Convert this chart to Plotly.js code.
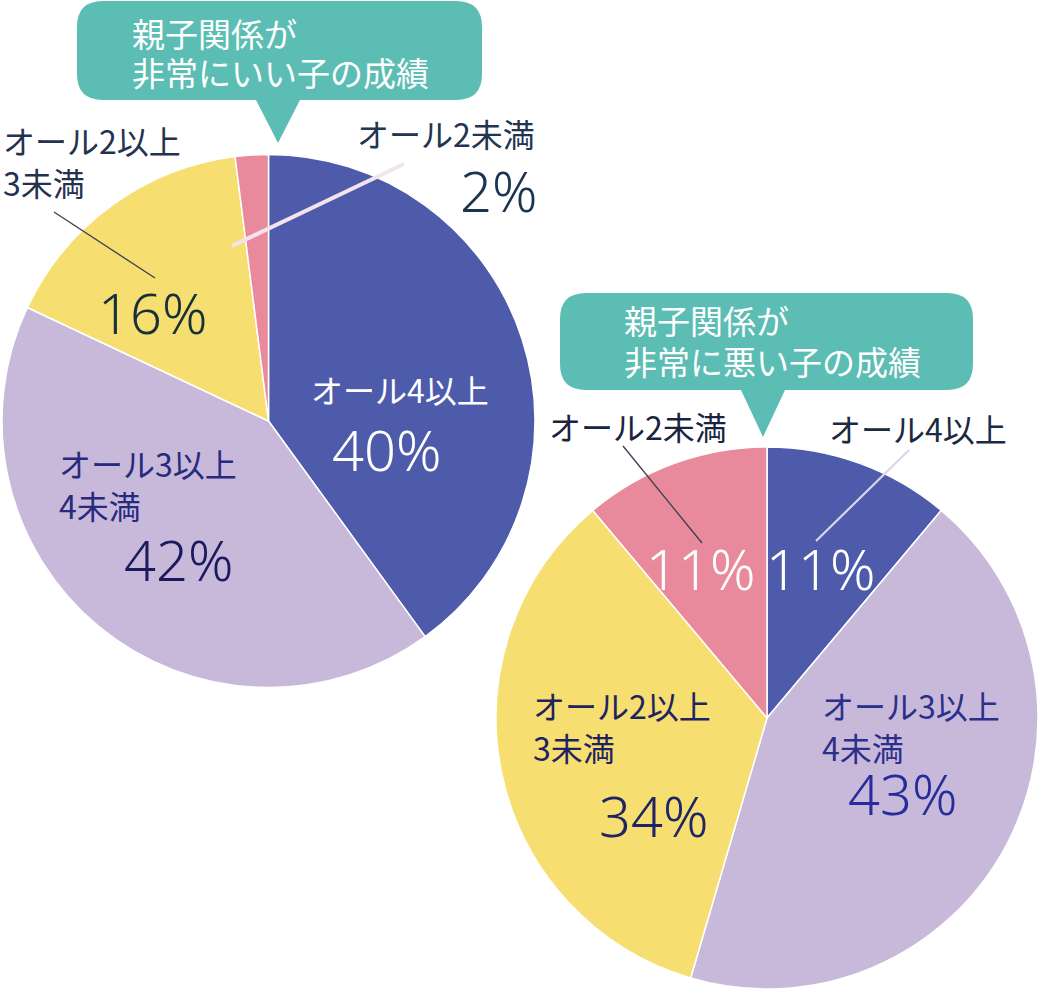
<!DOCTYPE html>
<html>
<head>
<meta charset="utf-8">
<script src="https://cdn.plot.ly/plotly-3.0.1.min.js"></script>
<style>
  html, body { margin: 0; padding: 0; background: #fff; }
  #chart { width: 1040px; height: 997px; }
</style>
</head>
<body>
<div id="chart"></div>
<script>
// 成績の区分（時計回り、12時から）
const grades = ['オール4以上', 'オール3以上<br>4未満', 'オール2以上<br>3未満', 'オール2未満'];
const good_values = [40, 42, 16, 2];
const bad_values = [11, 43, 34, 11];
const good_title = ['親子関係が', '非常にいい子の成績'];
const bad_title = ['親子関係が', '非常に悪い子の成績'];
const slice_colors = ['#4E5BAB', '#C8B9DB', '#F6DF70', '#E98A9C'];

const W = 1040, H = 997;
const JP = '"Noto Sans CJK JP", "Noto Sans", sans-serif';
const NUM = '"Noto Sans", "Noto Sans CJK JP", sans-serif';

function fx(px) { return px / W; }
function fy(py) { return 1 - py / H; }

function pie(values, cx, cy, r) {
  return {
    type: 'pie',
    labels: grades,
    values: values,
    sort: false,
    direction: 'clockwise',
    rotation: 0,
    textinfo: 'none',
    hoverinfo: 'none',
    showlegend: false,
    marker: { colors: slice_colors, line: { color: '#ffffff', width: 1.5 } },
    domain: { x: [fx(cx - r), fx(cx + r)], y: [fy(cy + r), fy(cy - r)] }
  };
}

function note(text, x, y, size, color, xanchor, family, weight) {
  return {
    text: text, xref: 'paper', yref: 'paper',
    x: fx(x), y: fy(y), xanchor: xanchor || 'center', yanchor: 'middle',
    align: xanchor === 'left' ? 'left' : 'center',
    showarrow: false,
    font: { family: family || JP, size: size, color: color, weight: weight || 400 }
  };
}

function big(v, x, y, color) {
  return note(v + '%', x, y, 56, color, 'center', NUM, 300);
}

// 吹き出し（角丸の四角と下向きの三角）
function bubble(x0, y0, x1, y1, tx, tipY) {
  let r = 26, b = 22;
  let p = 'M' + fx(x0 + r) + ',' + fy(y0) +
    ' L' + fx(x1 - r) + ',' + fy(y0) +
    ' Q' + fx(x1) + ',' + fy(y0) + ' ' + fx(x1) + ',' + fy(y0 + r) +
    ' L' + fx(x1) + ',' + fy(y1 - r) +
    ' Q' + fx(x1) + ',' + fy(y1) + ' ' + fx(x1 - r) + ',' + fy(y1) +
    ' L' + fx(tx + b) + ',' + fy(y1) +
    ' L' + fx(tx) + ',' + fy(tipY) +
    ' L' + fx(tx - b) + ',' + fy(y1) +
    ' L' + fx(x0 + r) + ',' + fy(y1) +
    ' Q' + fx(x0) + ',' + fy(y1) + ' ' + fx(x0) + ',' + fy(y1 - r) +
    ' L' + fx(x0) + ',' + fy(y0 + r) +
    ' Q' + fx(x0) + ',' + fy(y0) + ' ' + fx(x0 + r) + ',' + fy(y0) + ' Z';
  return {
    type: 'path', path: p, xref: 'paper', yref: 'paper', layer: 'above',
    fillcolor: '#5CBDB4', line: { width: 0 }
  };
}

function leader(x0, y0, x1, y1, color, width) {
  return {
    type: 'line', xref: 'paper', yref: 'paper', layer: 'above',
    x0: fx(x0), y0: fy(y0), x1: fx(x1), y1: fy(y1),
    line: { color: color, width: width }
  };
}

let data = [
  pie(good_values, 268.5, 421, 266.5),
  pie(bad_values, 767, 718, 271)
];

let shapes = [
  bubble(77, 1, 482, 100, 278, 143),
  bubble(560, 293, 973, 390, 763, 437),
  leader(404, 164, 232, 246, '#F3E4EC', 4),
  leader(54, 212, 155, 278, '#3B3F52', 1.3),
  leader(623, 446, 702, 543, '#3B3F52', 1.3),
  leader(909, 450, 816, 541, '#DAD6EE', 2.2)
];

let annotations = [
  // 吹き出しのタイトル
  note(good_title[0], 130, 33, 33, '#ffffff', 'left'),
  note(good_title[1], 130, 72, 33, '#ffffff', 'left'),
  note(bad_title[0], 622, 320, 33, '#ffffff', 'left'),
  note(bad_title[1], 622, 361, 33, '#ffffff', 'left'),

  // 非常にいい子
  note(grades[0], 400, 389, 32, '#ffffff'),
  big(good_values[0], 386, 449, '#ffffff'),
  note(grades[1], 57, 484, 32, '#262B7E', 'left'),
  big(good_values[1], 178, 559, '#1C1A5E'),
  note(grades[2], 1, 161, 32, '#23324F', 'left'),
  big(good_values[2], 152, 312, '#17303A'),
  note(grades[3], 446, 133, 32, '#22344F'),
  big(good_values[3], 498, 190, '#1B3550'),

  // 非常に悪い子
  note(grades[3], 638, 426, 32, '#1A2440'),
  note(grades[0], 918, 428, 32, '#1A2A40'),
  big(bad_values[3], 700, 568, '#ffffff'),
  big(bad_values[0], 820, 568, '#ffffff'),
  note(grades[2], 531, 726, 32, '#1E2460', 'left'),
  big(bad_values[2], 653, 815, '#1E2466'),
  note(grades[1], 820, 726, 32, '#2B2F8C', 'left'),
  big(bad_values[1], 902, 793, '#262C9A')
];

let layout = {
  width: W,
  height: H,
  margin: { l: 0, r: 0, t: 0, b: 0 },
  paper_bgcolor: '#ffffff',
  showlegend: false,
  shapes: shapes,
  annotations: annotations
};

Plotly.newPlot('chart', data, layout, { displayModeBar: false, staticPlot: true });
</script>
</body>
</html>
